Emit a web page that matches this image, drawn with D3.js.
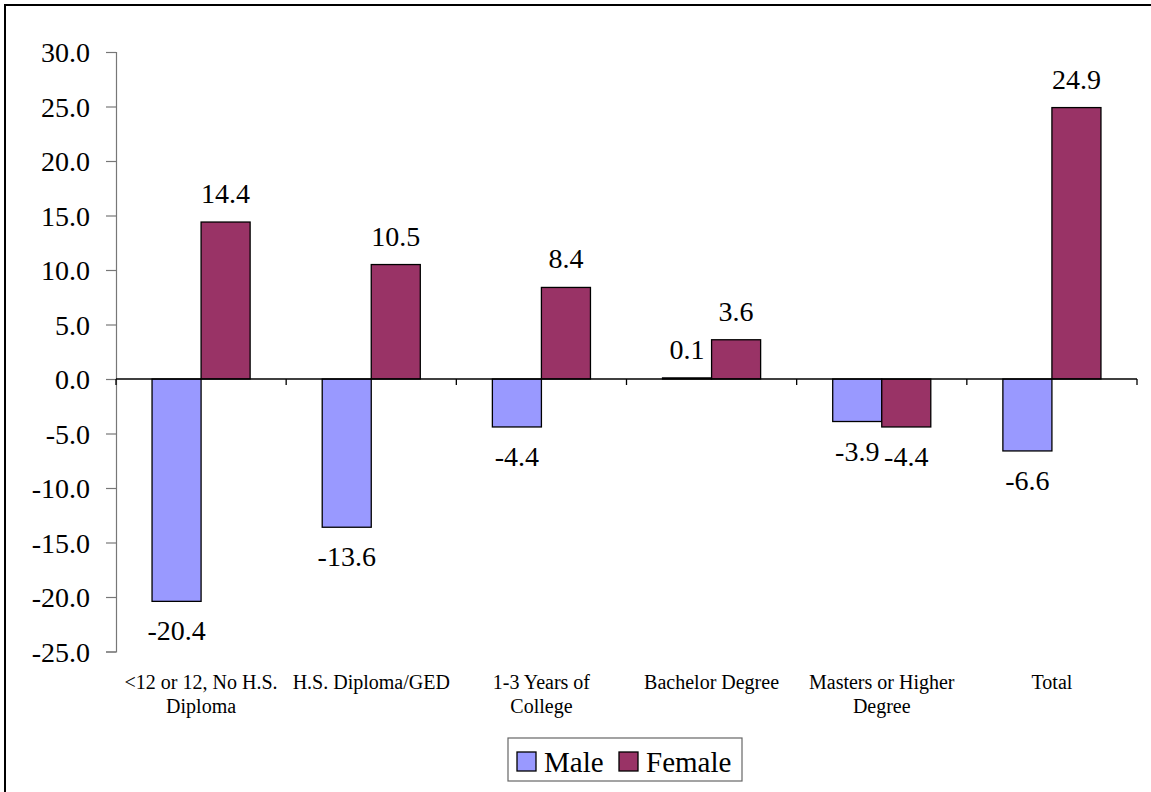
<!DOCTYPE html>
<html>
<head>
<meta charset="utf-8">
<script src="https://cdn.jsdelivr.net/npm/d3@7"></script>
<style>
  html, body { margin: 0; padding: 0; background: #fff; }
  svg { display: block; }
  svg text { font-family: "Liberation Serif", serif !important; fill: #000; }
</style>
</head>
<body>
<svg id="chart" width="1151" height="792"></svg>
<script>
// Percent change by educational attainment
const categories = ["<12 or 12, No H.S. Diploma", "H.S. Diploma/GED", "1-3 Years of College",
                    "Bachelor Degree", "Masters or Higher Degree", "Total"];
// category labels as they break across lines under the axis
const categoryLines = [["<12 or 12, No H.S.", "Diploma"], ["H.S. Diploma/GED"], ["1-3 Years of", "College"],
                       ["Bachelor Degree"], ["Masters or Higher", "Degree"], ["Total"]];
const seriesNames = ["Male", "Female"];
const maleValues = [-20.4, -13.6, -4.4, 0.1, -3.9, -6.6];
const femaleValues = [14.4, 10.5, 8.4, 3.6, -4.4, 24.9];
const yTicks = [30, 25, 20, 15, 10, 5, 0, -5, -10, -15, -20, -25];
const colors = ["#9999FF", "#993366"];

const FONT = "'Liberation Serif', serif";
const fmt = v => v.toFixed(1); // plain hyphen-minus for negatives

const svg = d3.select("#chart");
const W = 1151, H = 792;

// outer frame
svg.append("rect").attr("x", 5).attr("y", 5).attr("width", W + 20).attr("height", H + 20)
  .attr("fill", "#fff").attr("stroke", "#000").attr("stroke-width", 2);

const plot = { left: 116, right: 1137, top: 52, bottom: 651.5 };

const x = d3.scaleBand().domain(categories).range([plot.left, plot.right]).paddingInner(0).paddingOuter(0);
const xSeries = d3.scaleBand().domain(seriesNames)
  .range([0, x.bandwidth()]).paddingOuter(0.735).paddingInner(0);
const y = d3.scaleLinear().domain([-25, 30]).range([plot.bottom, plot.top]);

const rows = categories.map((c, i) => ({ cat: c, vals: [maleValues[i], femaleValues[i]] }));

// y axis
const yAxis = svg.append("g").attr("transform", `translate(${plot.left},0)`)
  .call(d3.axisLeft(y).tickValues(yTicks).tickFormat(fmt).tickSize(10).tickPadding(16));
yAxis.attr("font-family", FONT);
yAxis.select(".domain").attr("stroke", "#777").attr("stroke-width", 1.2);
yAxis.selectAll(".tick line").attr("stroke", "#777").attr("stroke-width", 1.2);
yAxis.selectAll(".tick text").attr("font-size", 28).style("font-family", FONT)
  .attr("dy", "0.35em");

// bars
const groups = svg.append("g").selectAll("g").data(rows).join("g")
  .attr("transform", d => `translate(${x(d.cat)},0)`);

groups.selectAll("rect").data(d => d.vals.map((v, j) => ({ v, s: seriesNames[j], j })))
  .join("rect")
  .attr("x", d => xSeries(d.s))
  .attr("width", xSeries.bandwidth())
  .attr("y", d => Math.min(y(d.v), y(0)))
  .attr("height", d => Math.max(Math.abs(y(d.v) - y(0)), 1))
  .attr("fill", d => colors[d.j])
  .attr("stroke", "#000").attr("stroke-width", 1.3);

// value labels
groups.selectAll("text.val").data(d => d.vals.map((v, j) => ({ v, s: seriesNames[j], j })))
  .join("text").attr("class", "val")
  .attr("x", d => xSeries(d.s) + xSeries.bandwidth() / 2)
  .attr("y", d => d.v >= 0 ? y(d.v) - 19 : y(d.v) + 39)
  .attr("text-anchor", "middle")
  .attr("font-size", 28)
  .style("font-family", FONT)
  .text(d => fmt(d.v));

// x axis on the zero line
const xAxis = svg.append("g").attr("transform", `translate(0,${y(0)})`);
xAxis.append("line").attr("x1", plot.left).attr("x2", plot.right)
  .attr("stroke", "#000").attr("stroke-width", 1.3);
const bounds = categories.map(c => x(c)).concat([plot.right]);
xAxis.selectAll("line.tk").data(bounds).join("line").attr("class", "tk")
  .attr("x1", d => d).attr("x2", d => d).attr("y1", 0).attr("y2", 6)
  .attr("stroke", "#000").attr("stroke-width", 1.3);

// category labels
const catG = svg.append("g");
categories.forEach((c, i) => {
  const cx = x(c) + x.bandwidth() / 2;
  const t = catG.append("text").attr("x", cx).attr("y", 689)
    .attr("text-anchor", "middle").attr("font-size", 20).style("font-family", FONT);
  categoryLines[i].forEach((ln, k) => {
    t.append("tspan").attr("x", cx).attr("dy", k === 0 ? 0 : 24).text(ln);
  });
});

// legend
const leg = svg.append("g");
leg.append("rect").attr("x", 508).attr("y", 738).attr("width", 234).attr("height", 43)
  .attr("fill", "#fff").attr("stroke", "#666").attr("stroke-width", 1.2);
const legX = [517, 619];
seriesNames.forEach((s, i) => {
  leg.append("rect").attr("x", legX[i]).attr("y", 752).attr("width", 19).attr("height", 19)
    .attr("fill", colors[i]).attr("stroke", "#000").attr("stroke-width", 1.3);
  leg.append("text").attr("x", legX[i] + 27).attr("y", 772).attr("font-size", 29)
    .style("font-family", FONT).text(s);
});
</script>
</body>
</html>
